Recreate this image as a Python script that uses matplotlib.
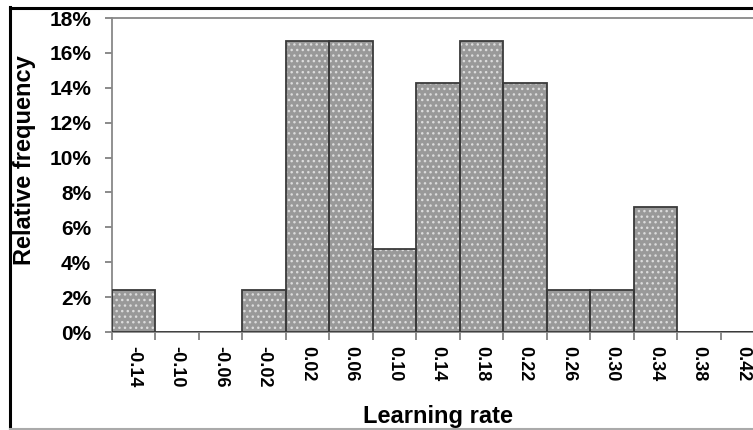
import matplotlib
matplotlib.use("Agg")
import matplotlib.pyplot as plt
from matplotlib.lines import Line2D
from matplotlib.ticker import FixedLocator, FuncFormatter

plt.rcParams['font.family'] = ['Liberation Sans', 'DejaVu Sans']

# Data
categories = ["-0.14", "-0.10", "-0.06", "-0.02", "0.02", "0.06", "0.10",
              "0.14", "0.18", "0.22", "0.26", "0.30", "0.34", "0.38", "0.42"]
rel_freq = [2.38, 0.0, 0.0, 2.38, 16.67, 16.67, 4.76,
            14.29, 16.67, 14.29, 2.38, 2.38, 7.14, 0.0, 0.0]
y_ticks = [0, 2, 4, 6, 8, 10, 12, 14, 16, 18]

W, H = 753, 430
fig = plt.figure(figsize=(W / 100, H / 100), dpi=100)
fig.patch.set_facecolor('white')

left, right = 112, 764
top, bottom = 18, 332
ax = fig.add_axes([left / W, (H - bottom) / H, (right - left) / W, (bottom - top) / H])

x = list(range(len(categories)))
# fill with dotted texture
ax.bar(x, rel_freq, width=1.0, color='#999999', edgecolor='#dcdcdc',
       hatch='...', linewidth=0, zorder=2)
# outlines
ax.bar(x, rel_freq, width=1.0, fill=False, edgecolor='#3a3a3a',
       linewidth=1.3, zorder=3)

ax.set_xlim(-0.5, len(categories) - 0.5)
ax.set_ylim(0, 18)

ax.set_yticks(y_ticks)
ax.yaxis.set_major_formatter(FuncFormatter(lambda v, p: f"{int(v)}%"))
ax.set_xticks(x)
ax.set_xticklabels(categories, rotation=-90, fontsize=13, fontweight='bold')
for lbl in ax.get_yticklabels():
    lbl.set_fontweight('bold')
ax.xaxis.set_minor_locator(FixedLocator([i - 0.5 for i in range(len(categories) + 1)]))
ax.tick_params(axis='x', which='major', length=0, pad=10)
ax.tick_params(axis='x', which='minor', length=6, color='#777777', width=1.2, direction='out')
ax.tick_params(axis='y', which='major', length=5, color='#777777', width=1.2,
               direction='out', pad=10, labelsize=15)
for lbl in ax.get_yticklabels():
    lbl.set_fontweight('bold')

for s in ['left', 'bottom', 'top']:
    ax.spines[s].set_color('#888888')
    ax.spines[s].set_linestyle((0, (1.5, 1)))
    ax.spines[s].set_linewidth(1.3)
ax.spines['right'].set_visible(False)

ax.set_xlabel("Learning rate", fontsize=17, fontweight='bold', labelpad=13)
fig.text(25 / W, 1 - 160 / H, "Relative frequency", rotation=90, fontsize=17,
         fontweight='bold', ha='center', va='center')

# outer frame (partially visible)
fig.add_artist(Line2D([10 / W, 10 / W], [0, 1 - 7 / H], color='black', lw=2.2,
                      transform=fig.transFigure))
fig.add_artist(Line2D([10 / W, 1], [1 - 8 / H, 1 - 8 / H], color='black', lw=2.2,
                      transform=fig.transFigure))
fig.add_artist(Line2D([10 / W, 1], [1.5 / H, 1.5 / H], color='#aaaaaa', lw=1.5,
                      transform=fig.transFigure))

fig.savefig("out.png", dpi=100)
